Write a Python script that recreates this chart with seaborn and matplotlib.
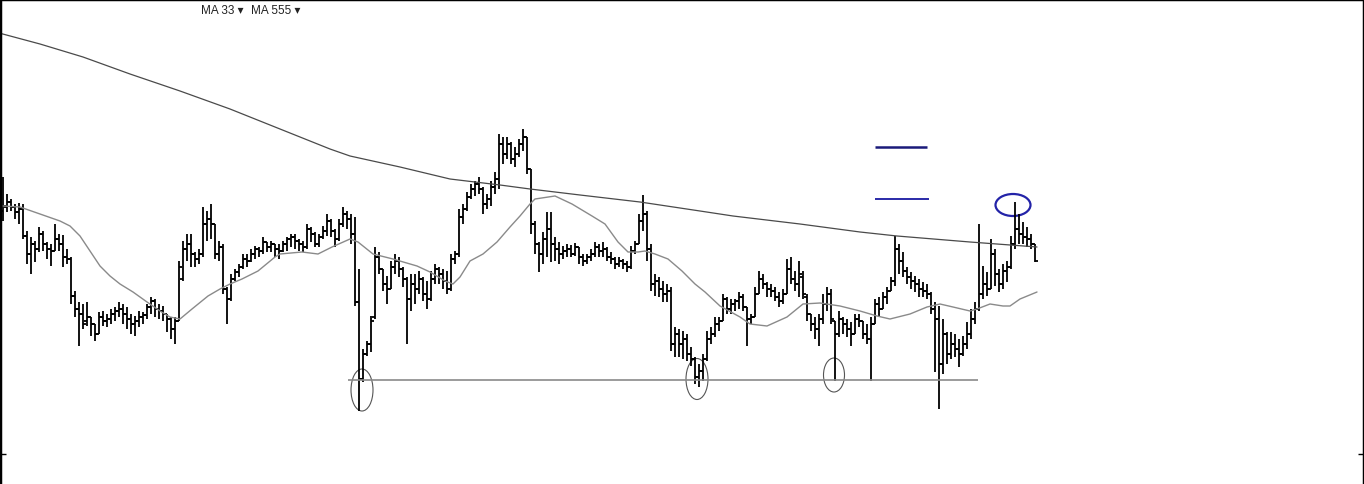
import numpy as np
import pandas as pd
import seaborn as sns
import matplotlib.pyplot as plt
from matplotlib.patches import Ellipse

# daily OHLC bars (arbitrary price units)
opens = [
    27.3, 27.7, 28.2, 27.7, 27.2, 27.5, 24.8, 23.0, 24.0, 23.5,
    25.0, 24.0, 23.5, 23.3, 24.5, 24.0, 22.7, 22.5, 18.8, 17.5,
    17.0, 16.3, 16.7, 16.0, 15.0, 16.7, 16.3, 16.5, 17.0, 17.3,
    17.5, 17.0, 16.5, 16.0, 16.3, 16.7, 16.9, 17.7, 18.3, 17.5,
    17.3, 17.0, 16.5, 15.5, 16.3, 20.5, 23.5, 24.0, 23.0, 22.5,
    23.0, 26.0, 26.5, 26.0, 23.0, 23.7, 19.5, 18.5, 20.5, 21.2,
    21.7, 22.5, 22.3, 23.0, 23.5, 23.3, 24.2, 23.7, 24.0, 23.5,
    23.3, 24.0, 24.5, 24.7, 24.3, 24.0, 23.7, 25.5, 25.0, 24.0,
    24.7, 25.3, 26.3, 25.3, 24.5, 26.0, 27.0, 26.5, 25.0, 18.2,
    10.5, 13.0, 14.0, 16.7, 22.7, 21.5, 20.0, 19.5, 21.7, 22.3,
    21.5, 20.5, 18.5, 20.0, 19.5, 20.5, 19.0, 18.5, 20.5, 21.5,
    21.0, 20.3, 19.5, 22.5, 23.0, 26.7, 27.5, 28.7, 29.5, 30.0,
    29.5, 28.0, 28.5, 29.7, 30.5, 34.0, 33.0, 34.0, 32.5, 33.0,
    34.0, 34.7, 31.5, 26.0, 24.0, 23.0, 24.5, 25.5, 24.0, 23.5,
    23.0, 23.3, 23.5, 23.0, 23.7, 22.7, 22.3, 22.7, 23.0, 23.7,
    23.3, 23.5, 22.7, 22.5, 22.0, 22.3, 22.0, 21.7, 23.3, 24.0,
    26.3, 27.0, 23.5, 20.0, 20.3, 19.5, 19.0, 19.3, 14.0, 15.0,
    14.0, 14.5, 13.0, 12.5, 10.7, 11.3, 12.5, 14.5, 15.0, 16.0,
    16.3, 18.5, 17.5, 18.0, 18.3, 18.7, 17.7, 16.5, 16.7, 19.0,
    20.5, 20.0, 19.5, 19.3, 18.7, 18.3, 19.0, 21.5, 20.5, 20.0,
    20.7, 18.7, 17.0, 16.0, 15.5, 16.5, 18.0, 19.0, 16.3, 15.0,
    16.5, 16.0, 15.5, 15.0, 16.5, 16.3, 15.0, 14.5, 16.0, 18.0,
    17.5, 18.7, 19.3, 20.3, 23.5, 22.3, 21.3, 20.7, 20.3, 20.0,
    19.5, 19.3, 19.0, 17.5, 16.5, 12.0, 15.0, 13.0, 14.0, 13.5,
    13.0, 14.0, 15.0, 16.5, 17.5, 19.0, 20.0, 19.5, 23.0, 21.0,
    20.0, 21.3, 21.7, 24.0, 25.5, 25.0, 24.7, 24.5, 24.0,
]
highs = [
    30.7, 29.0, 28.5, 28.0, 28.1, 28.0, 25.3, 24.7, 24.3, 25.7,
    25.3, 24.2, 24.0, 26.0, 25.0, 24.9, 23.5, 22.7, 19.3, 18.2,
    18.0, 18.2, 16.7, 16.0, 17.2, 17.3, 17.0, 17.5, 17.7, 18.2,
    18.0, 17.7, 17.0, 16.8, 17.3, 17.2, 18.0, 18.7, 18.5, 18.0,
    17.8, 17.0, 16.7, 16.7, 22.3, 24.3, 25.0, 25.0, 23.2, 23.5,
    27.7, 27.3, 28.0, 26.0, 24.3, 24.0, 19.7, 21.0, 21.5, 22.0,
    23.0, 23.0, 23.5, 23.8, 23.7, 24.7, 24.2, 24.3, 24.0, 24.0,
    24.3, 24.7, 25.0, 25.0, 24.5, 24.3, 26.0, 25.7, 25.2, 25.0,
    25.8, 27.0, 26.5, 25.5, 26.5, 27.7, 27.3, 27.0, 26.7, 21.5,
    13.5, 14.3, 16.8, 23.7, 23.2, 21.5, 20.8, 22.3, 23.0, 22.7,
    21.7, 20.7, 21.0, 21.0, 21.3, 20.7, 20.3, 21.3, 22.0, 21.7,
    21.5, 21.3, 23.0, 23.3, 27.5, 28.0, 29.2, 30.0, 30.3, 30.7,
    29.7, 29.0, 30.3, 31.2, 35.0, 34.7, 34.7, 34.2, 33.7, 34.5,
    35.5, 34.7, 31.5, 26.3, 24.2, 25.2, 27.2, 27.2, 24.7, 24.2,
    23.8, 24.0, 23.9, 24.1, 23.7, 23.0, 23.0, 23.5, 24.2, 24.0,
    24.2, 23.7, 23.2, 22.7, 22.7, 22.5, 22.3, 23.8, 24.3, 27.0,
    28.9, 27.3, 24.0, 21.0, 20.7, 20.3, 20.0, 19.7, 15.7, 15.5,
    15.3, 15.0, 13.7, 12.7, 12.0, 13.0, 15.3, 15.7, 16.7, 16.7,
    19.0, 18.7, 18.5, 18.5, 19.2, 19.0, 17.7, 17.0, 19.7, 21.3,
    21.0, 20.2, 20.0, 19.7, 19.2, 19.5, 22.5, 22.7, 21.3, 22.3,
    21.3, 19.0, 17.0, 16.7, 17.0, 19.0, 19.7, 19.5, 16.3, 17.3,
    16.7, 16.5, 16.2, 17.0, 17.0, 16.3, 16.0, 16.7, 18.5, 18.7,
    19.2, 19.7, 20.7, 24.8, 24.0, 23.2, 21.7, 21.2, 20.8, 20.5,
    20.2, 20.0, 19.2, 18.2, 17.8, 16.5, 15.2, 15.2, 15.0, 14.5,
    14.8, 16.2, 17.5, 18.2, 26.0, 21.8, 21.2, 24.5, 23.5, 21.5,
    22.0, 22.3, 24.8, 28.2, 27.0, 26.2, 25.7, 25.0, 24.0,
]
lows = [
    26.3, 27.2, 27.3, 26.5, 26.0, 24.5, 22.0, 21.0, 22.2, 23.2,
    23.3, 22.5, 21.8, 23.3, 23.3, 21.7, 22.0, 18.0, 16.7, 13.8,
    15.5, 15.8, 14.8, 14.3, 15.0, 15.8, 15.7, 16.0, 16.3, 16.7,
    16.0, 15.5, 15.0, 14.8, 15.7, 16.0, 16.5, 17.0, 16.7, 16.5,
    16.3, 15.2, 14.5, 14.0, 16.3, 20.3, 22.3, 21.7, 21.7, 22.0,
    22.7, 24.3, 24.5, 22.5, 22.3, 19.0, 16.0, 18.3, 20.3, 20.7,
    21.5, 21.7, 22.2, 22.5, 22.7, 23.0, 23.2, 23.2, 22.7, 22.5,
    23.2, 23.3, 23.7, 23.5, 23.3, 23.2, 23.5, 24.2, 23.7, 23.7,
    24.5, 24.8, 24.7, 23.7, 24.3, 25.7, 25.5, 24.0, 17.8, 7.3,
    10.2, 12.8, 13.2, 16.5, 21.0, 19.3, 18.0, 19.5, 21.0, 20.7,
    19.7, 14.0, 17.3, 18.0, 19.0, 18.3, 17.5, 18.3, 20.0, 20.0,
    19.5, 19.0, 19.3, 22.0, 22.7, 26.0, 27.3, 28.5, 28.8, 29.0,
    27.0, 27.5, 27.8, 29.0, 29.5, 32.0, 32.5, 32.0, 31.7, 32.7,
    33.3, 31.0, 25.0, 23.0, 21.2, 22.0, 22.7, 22.2, 22.3, 22.0,
    22.5, 22.7, 22.7, 22.8, 22.0, 21.8, 22.0, 22.3, 22.7, 22.7,
    22.7, 22.3, 22.0, 21.5, 21.7, 21.5, 21.2, 21.5, 23.0, 24.0,
    25.3, 22.3, 19.3, 18.8, 18.7, 18.2, 18.2, 13.3, 12.7, 12.7,
    12.5, 12.3, 11.8, 10.0, 9.7, 10.3, 12.3, 14.0, 14.7, 15.3,
    16.3, 17.0, 17.0, 17.3, 17.5, 17.3, 13.8, 16.0, 16.7, 19.0,
    19.5, 18.7, 18.7, 18.3, 17.7, 18.0, 19.0, 20.0, 19.3, 18.7,
    18.5, 16.3, 15.3, 14.5, 13.8, 16.0, 17.3, 16.0, 10.3, 14.7,
    15.0, 14.7, 13.8, 15.0, 15.7, 14.5, 14.0, 10.3, 16.0, 16.7,
    17.5, 18.0, 19.3, 19.8, 21.0, 20.7, 20.0, 19.5, 19.2, 18.7,
    18.7, 18.5, 17.0, 11.2, 7.5, 11.0, 12.0, 12.5, 12.7, 11.7,
    12.8, 13.5, 14.5, 16.0, 17.3, 18.5, 18.8, 19.5, 19.8, 19.2,
    19.5, 20.2, 21.5, 23.5, 24.0, 24.0, 23.7, 23.5, 22.2,
]
closes = [
    27.8, 28.2, 27.7, 27.2, 27.5, 24.8, 23.0, 24.0, 23.5, 25.0,
    24.0, 23.5, 23.3, 24.5, 24.0, 22.7, 22.5, 18.8, 17.5, 17.0,
    16.0, 16.7, 16.0, 15.0, 16.7, 16.3, 16.5, 17.0, 17.3, 17.5,
    17.0, 16.5, 16.0, 16.3, 16.7, 16.9, 17.7, 18.3, 17.5, 17.3,
    17.0, 16.5, 15.5, 16.3, 21.7, 23.5, 24.0, 23.0, 22.5, 23.0,
    26.0, 26.5, 26.0, 23.0, 23.7, 19.5, 18.5, 20.5, 21.2, 21.7,
    22.5, 22.3, 23.0, 23.5, 23.3, 24.2, 23.7, 24.0, 23.5, 23.3,
    24.0, 24.5, 24.7, 24.3, 24.0, 23.7, 25.5, 25.0, 24.0, 24.7,
    25.3, 26.3, 25.3, 24.5, 26.0, 27.0, 26.5, 25.0, 18.2, 10.5,
    13.0, 14.0, 16.3, 22.7, 21.5, 20.0, 19.5, 21.7, 22.3, 21.5,
    20.5, 18.5, 20.0, 19.5, 20.5, 19.0, 18.5, 20.5, 21.5, 21.0,
    20.3, 19.5, 22.5, 23.0, 26.7, 27.5, 28.7, 29.5, 30.0, 29.5,
    28.0, 28.5, 29.7, 30.5, 34.0, 33.0, 34.0, 32.5, 33.0, 34.0,
    34.7, 31.5, 26.0, 24.0, 23.0, 24.5, 25.5, 24.0, 23.5, 23.0,
    23.3, 23.5, 23.0, 23.7, 22.7, 22.3, 22.7, 23.0, 23.7, 23.3,
    23.5, 22.7, 22.5, 22.0, 22.3, 22.0, 21.7, 23.3, 24.0, 26.3,
    27.0, 23.5, 20.0, 20.3, 19.5, 19.0, 19.3, 14.0, 15.0, 14.0,
    14.5, 13.0, 12.5, 10.7, 11.3, 12.5, 14.5, 15.0, 16.0, 16.3,
    18.5, 17.5, 18.0, 18.3, 18.7, 17.7, 16.5, 16.7, 19.0, 20.5,
    20.0, 19.5, 19.3, 18.7, 18.3, 19.0, 21.5, 20.5, 20.0, 21.0,
    19.0, 17.0, 16.0, 15.5, 16.5, 18.0, 19.0, 16.5, 15.0, 16.5,
    16.0, 15.5, 15.0, 16.5, 16.3, 15.0, 14.5, 16.0, 18.0, 17.5,
    18.7, 19.3, 20.3, 23.5, 22.3, 21.3, 20.7, 20.3, 20.0, 19.5,
    19.3, 19.0, 17.5, 16.5, 12.0, 15.0, 13.0, 14.0, 13.5, 13.0,
    14.0, 15.0, 16.5, 17.5, 19.0, 20.0, 19.5, 23.0, 21.0, 20.0,
    21.3, 21.7, 24.0, 25.5, 25.0, 24.7, 24.5, 24.0, 22.3,
]

# moving averages, sampled along the chart (bar index, value)
ma33_bar = [0, 4.25, 9.25, 14.25, 16.75, 19.25, 21.75, 24.25, 26.75, 29.25,
            32.5, 36, 39.25, 41.75, 44.25, 47.25, 51.25, 54.25, 56.75, 59.75,
            63.75, 68, 69.25, 74.75, 78.75, 82.25, 86.75, 88.75, 92.5, 97.5,
            103.5, 106.75, 110.5, 112.5, 114.25, 116.75, 120, 123.5, 126.75, 129.25,
            131.75, 133, 138, 142.25, 147.25, 150.5, 153.75, 156.25, 158.75, 160.5,
            163, 166.25, 169.75, 173, 175.5, 179.25, 184.25, 186.75, 191, 196,
            200, 204.25, 209.25, 214.25, 218.5, 221.75, 226.75, 231, 234.25, 237.5,
            241.75, 243.5, 246.75, 250, 251.75, 254.25, 258.5]
ma33_val = [27.8, 27.7, 27.0, 26.3, 25.8, 24.8, 23.3, 21.8, 20.8, 20.0,
            19.2, 18.2, 17.3, 16.7, 16.5, 17.5, 18.8, 19.5, 20.0, 20.5,
            21.3, 22.7, 23.0, 23.2, 23.0, 23.7, 24.5, 24.2, 23.0, 22.5,
            21.8, 21.2, 20.3, 20.0, 20.7, 22.3, 23.0, 24.2, 25.7, 26.8,
            28.0, 28.5, 28.8, 28.0, 26.8, 26.0, 24.2, 23.2, 23.2, 23.3,
            23.0, 22.5, 21.3, 20.0, 19.2, 17.8, 16.7, 16.0, 15.8, 16.7,
            18.0, 18.1, 17.8, 17.3, 16.8, 16.5, 17.0, 17.7, 18.0, 17.7,
            17.3, 17.5, 18.0, 17.8, 17.8, 18.5, 19.2]
ma555_bar = [-1, 9.25, 20, 31.75, 44.25, 56.75, 69.25, 81.75, 86.75, 99.25,
             111.75, 124.25, 131.75, 144.25, 159.25, 174.25, 182.5, 199.25, 214.25, 223.5,
             241.75, 258.5]
ma555_val = [45.1, 44.0, 42.7, 41.0, 39.3, 37.5, 35.5, 33.5, 32.8, 31.7,
             30.5, 29.9, 29.5, 28.9, 28.2, 27.3, 26.8, 26.0, 25.2, 24.8,
             24.2, 23.7]

# hand-drawn annotations
support_level = 10.4
support_span = (86.25, 243.75)
grey_circles = [(89.75, 9.4, 5.5, 4.2), (173.5, 10.5, 5.5, 4.1), (207.75, 10.9, 5.25, 3.4)]
blue_circle = (252.5, 27.9, 8.75, 2.2)
blue_marks = [(218, 231, 33.7), (218, 231.5, 28.5)]

sns.set_style("white")
plt.rcParams['font.family'] = ['Liberation Sans', 'DejaVu Sans']

df = pd.DataFrame({'open': opens, 'high': highs, 'low': lows, 'close': closes})
df['bar'] = np.arange(len(df))

fig = plt.figure(figsize=(13.64, 4.85), dpi=100)
ax = fig.add_axes([0, 0, 1, 1])

# OHLC bars
tick = 0.65
ax.vlines(df['bar'], df['low'], df['high'], color='black', lw=1.3)
ax.hlines(df['open'], df['bar'] - tick, df['bar'], color='black', lw=1.3)
ax.hlines(df['close'], df['bar'], df['bar'] + tick, color='black', lw=1.3)

sns.lineplot(x=ma33_bar, y=ma33_val, ax=ax, color='#8a8a8a', lw=1.0, estimator=None)
sns.lineplot(x=ma555_bar, y=ma555_val, ax=ax, color='#4a4a4a', lw=0.9, estimator=None)

ax.hlines(support_level, *support_span, color='#8a8a8a', lw=1.2)
for cx, cy, w, h in grey_circles:
    ax.add_patch(Ellipse((cx, cy), w, h, fill=False, edgecolor='#555555', lw=0.8))
cx, cy, w, h = blue_circle
ax.add_patch(Ellipse((cx, cy), w, h, fill=False, edgecolor='#2323a8', lw=1.6))
ax.hlines(blue_marks[0][2], blue_marks[0][0], blue_marks[0][1], color='#1a1a7a', lw=1.8)
ax.hlines(blue_marks[1][2], blue_marks[1][0], blue_marks[1][1], color='#2a2aa8', lw=1.4)

ax.set_xlim(-0.75, 340.25)
ax.set_ylim(0, 48.5)
ax.set_xticks([])
ax.set_yticks([3.0])
ax.tick_params(axis='y', direction='in', length=4, width=1, left=True, right=True,
               labelleft=False, labelright=False, color='black')
for side in ['left', 'top', 'right']:
    ax.spines[side].set_visible(True)
    ax.spines[side].set_color('black')
    ax.spines[side].set_linewidth(2.5)
ax.spines['bottom'].set_visible(False)

fig.text(201 / 1364, 1 - 14.5 / 485, 'MA 33 \u25be', fontsize=8.5, color='#222222', va='baseline')
fig.text(251 / 1364, 1 - 14.5 / 485, 'MA 555 \u25be', fontsize=8.5, color='#222222', va='baseline')

fig.savefig('out.png', dpi=100)
